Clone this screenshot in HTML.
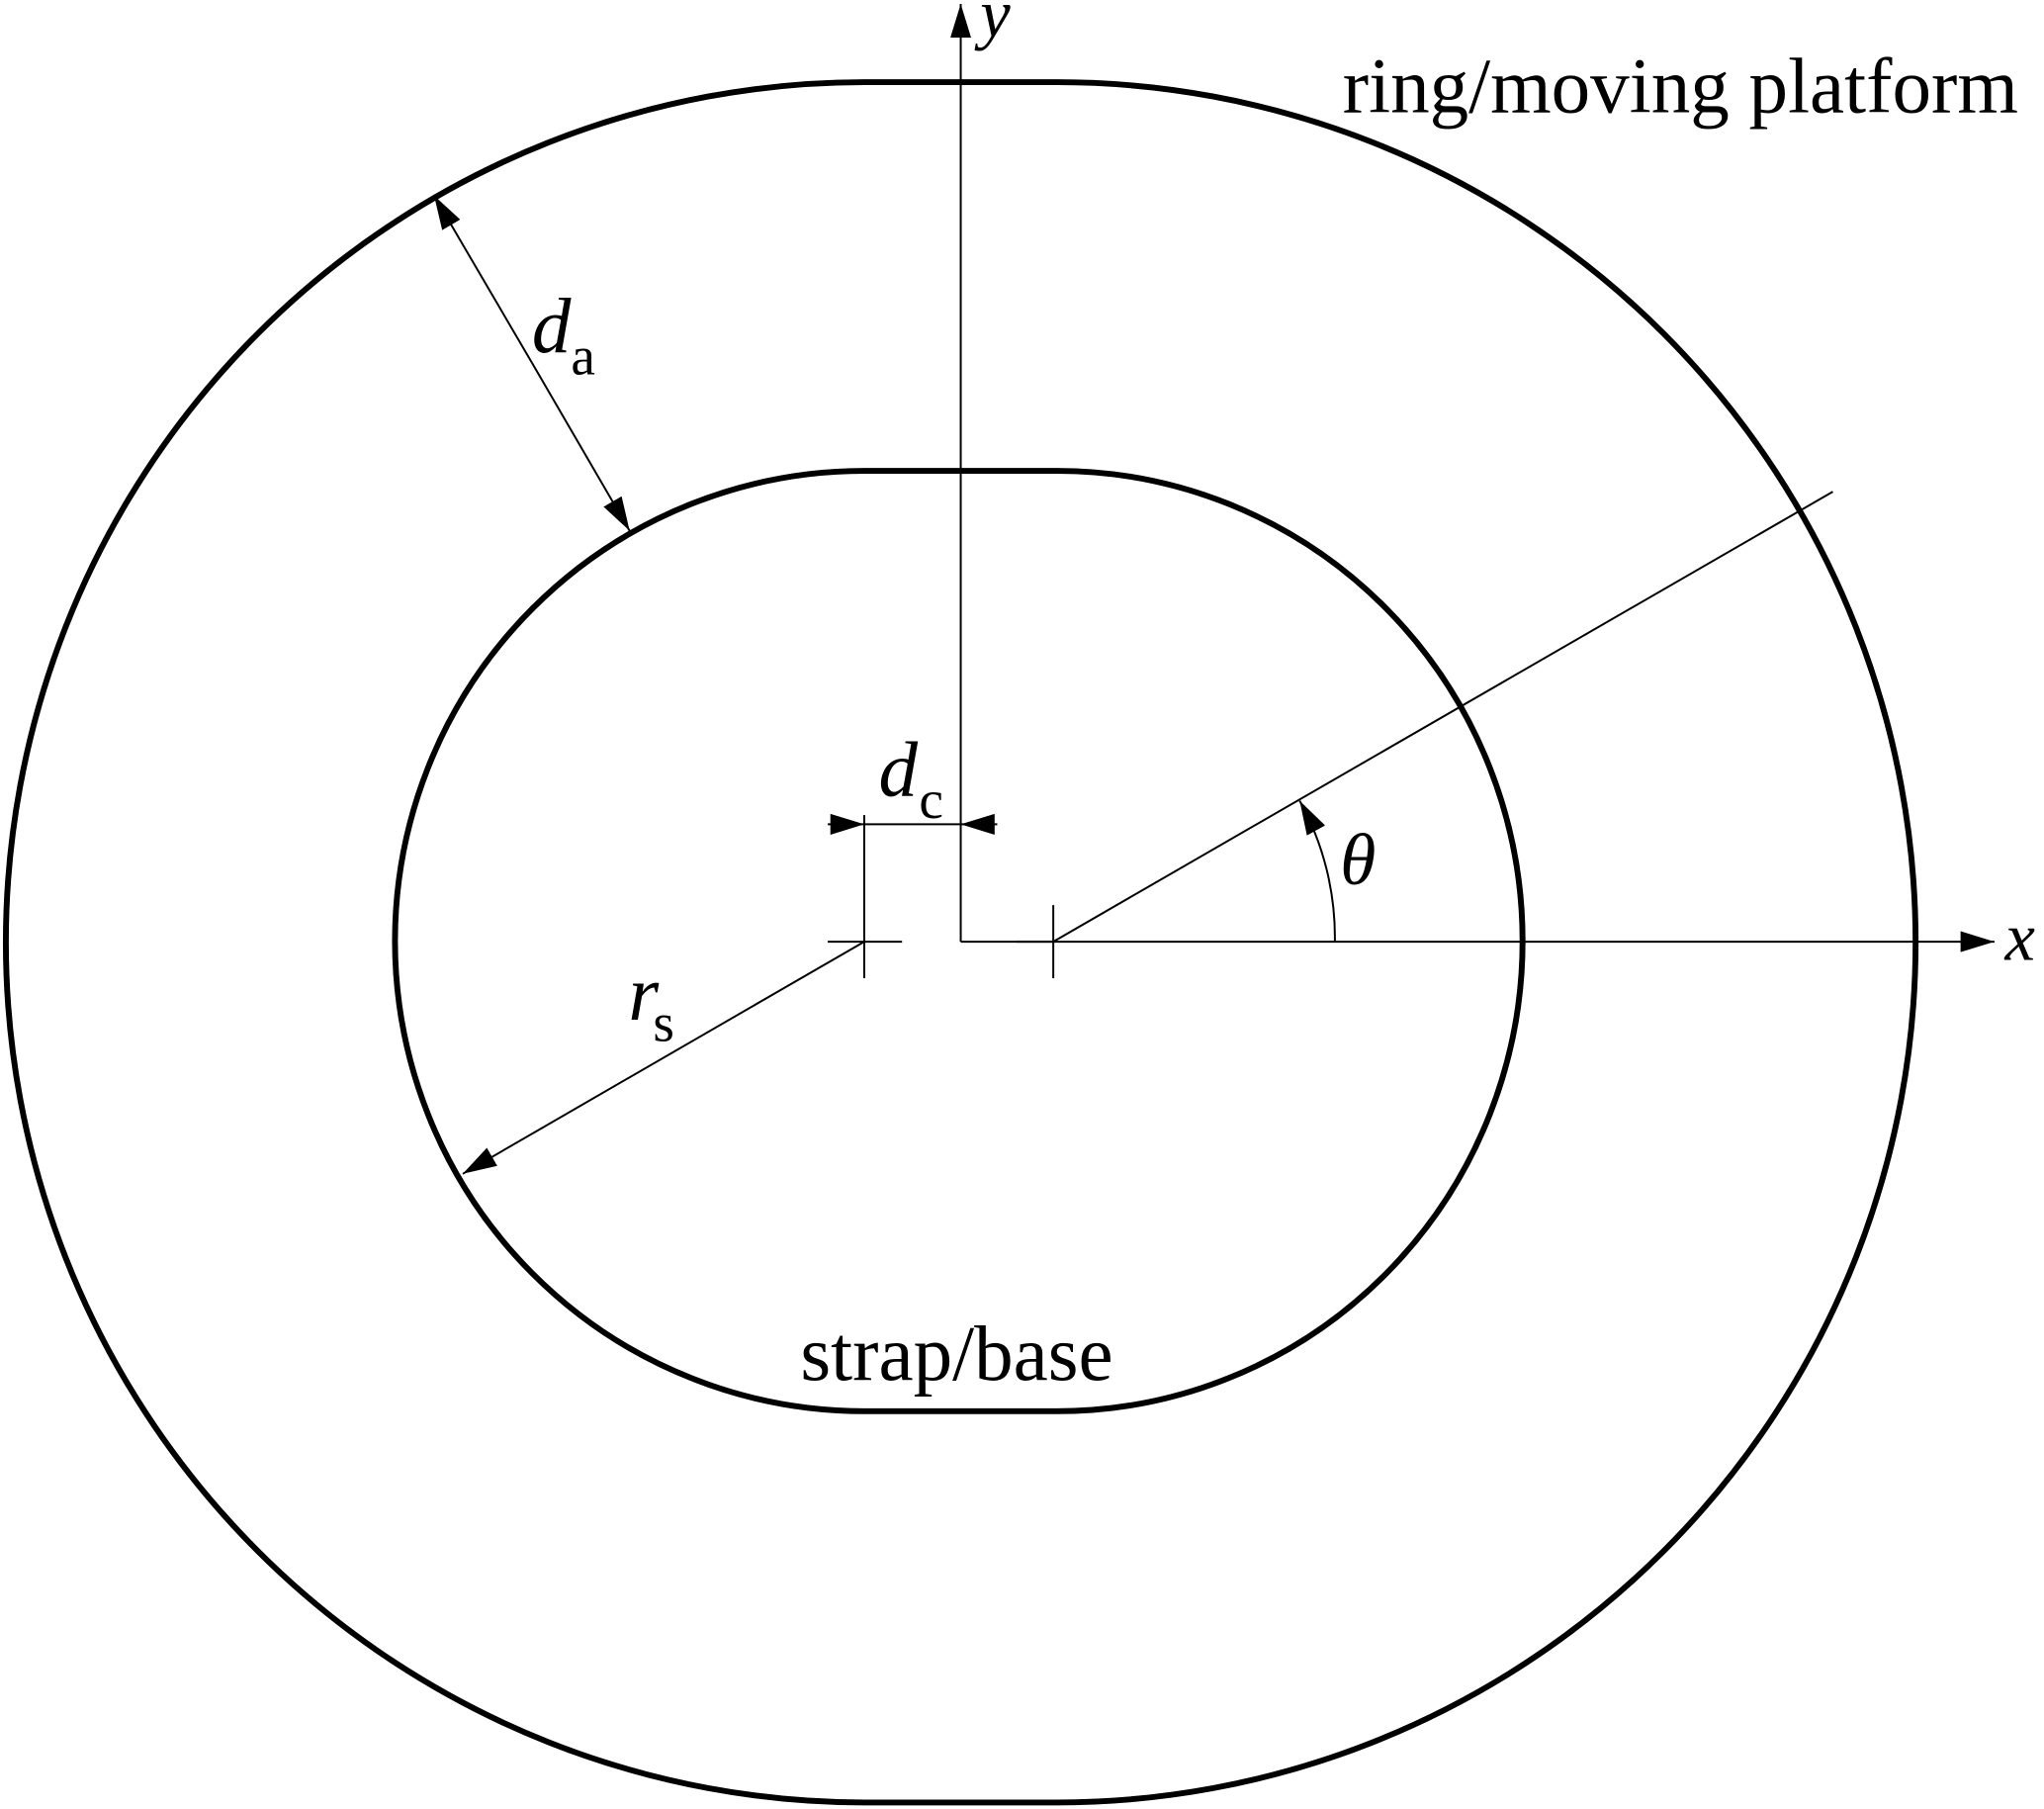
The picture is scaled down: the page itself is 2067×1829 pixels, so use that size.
<!DOCTYPE html>
<html><head><style>html,body{margin:0;padding:0;background:#fff}svg{display:block}</style></head>
<body>
<svg width="2067" height="1829" viewBox="0 0 1568 1387" preserveAspectRatio="none" xmlns="http://www.w3.org/2000/svg">
<defs>
<marker id="a" markerWidth="26" markerHeight="16" refX="26" refY="8" orient="auto" markerUnits="userSpaceOnUse"><path d="M0,0 L26,8 L0,16 Z" fill="#000"/></marker>
</defs>
<g fill="none" stroke="#000" stroke-width="4.5">
<path d="M663,63 L811,63 A658,659 0 0 1 811,1382 L663,1382 A658,659 0 0 1 663,63 Z"/>
<path d="M663,361 L811,361 A357,360.5 0 0 1 811,1082 L663,1082 A360,360.5 0 0 1 663,361 Z"/>
</g>
<g fill="none" stroke="#000" stroke-width="1.5">
<line x1="737" y1="722" x2="737" y2="3" marker-end="url(#a)"/>
<line x1="737" y1="722" x2="1530" y2="722" marker-end="url(#a)"/>
<line x1="635" y1="722" x2="692" y2="722"/>
<line x1="663" y1="625" x2="663" y2="750"/>
<line x1="780" y1="722" x2="808" y2="722"/>
<line x1="808" y1="694" x2="808" y2="750"/>
<line x1="635" y1="632" x2="663" y2="632" marker-end="url(#a)"/>
<line x1="765" y1="632" x2="737" y2="632" marker-end="url(#a)"/>
<line x1="663" y1="632" x2="737" y2="632"/>
<line x1="808" y1="722" x2="1406" y2="377"/>
<path d="M1024,722 A216,216 0 0 0 997,614" marker-end="url(#a)"/>
<line x1="408" y1="278" x2="333" y2="150" marker-end="url(#a)"/>
<line x1="408" y1="278" x2="483" y2="407" marker-end="url(#a)"/>
<line x1="663" y1="722" x2="355" y2="900" marker-end="url(#a)"/>
</g>
<g font-family="Liberation Serif, serif" fill="#000">
<text x="1030" y="86" font-size="60">ring/moving platform</text>
<text x="614" y="1058" font-size="60">strap/base</text>
<text x="752" y="28" font-size="52" font-style="italic">y</text>
<text x="1538" y="736" font-size="52" font-style="italic">x</text>
<text x="1028" y="678" font-size="56" font-style="italic">θ</text>
<text x="408" y="270" font-size="60" font-style="italic">d</text>
<text x="438" y="287" font-size="42">a</text>
<text x="674" y="610" font-size="60" font-style="italic">d</text>
<text x="705" y="627" font-size="42">c</text>
<text x="482" y="782" font-size="60" font-style="italic">r</text>
<text x="501" y="798" font-size="42">s</text>
</g>
</svg>
</body></html>
